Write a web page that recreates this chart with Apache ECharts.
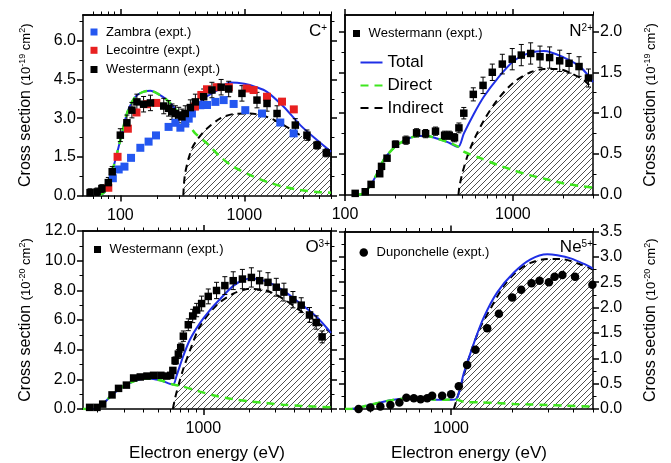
<!DOCTYPE html>
<html><head><meta charset="utf-8">
<script src="https://cdn.jsdelivr.net/npm/echarts@6/dist/echarts.min.js"></script>
<style>html,body{margin:0;padding:0;background:#fff}#c{width:671px;height:463px}</style>
</head><body><div id="c"></div>
<script>
// ---------------- DATA ----------------
// tick values
const xMajorTicks = [100, 1000];
const xMinorTicks = [60,70,80,90,200,300,400,500,600,700,800,900,2000,3000,4000,5000,6000,7000,8000,9000];
const cYTicks = [0, 1.5, 3.0, 4.5, 6.0];
const cYMinor = [0.75, 2.25, 3.75, 5.25, 6.75];
const nYTicks = [0, 0.5, 1.0, 1.5, 2.0];
const nYMinor = [0.25, 0.75, 1.25, 1.75];
const oYTicks = [0, 2, 4, 6, 8, 10, 12];
const oYMinor = [1, 3, 5, 7, 9, 11];
const neYTicks = [0, 0.5, 1.0, 1.5, 2.0, 2.5, 3.0, 3.5];
const neYMinor = [0.25, 0.75, 1.25, 1.75, 2.25, 2.75, 3.25];

// C+ panel
const cTotE = [68, 75, 80, 88, 100, 113, 125, 136, 155, 175, 200, 238, 280, 322, 360, 400, 443, 500, 603, 771, 1000, 1250, 1523, 2077, 2826, 3853, 5000];
const cTotV = [0, 0.15, 0.55, 1.11, 2.15, 3.18, 3.65, 3.89, 4.03, 4.06, 3.95, 3.70, 3.33, 2.92, 3.22, 3.45, 3.63, 3.85, 4.08, 4.38, 4.33, 4.20, 4.02, 3.44, 2.73, 2.15, 1.70];
const cDirE = [68, 75, 80, 88, 100, 113, 125, 136, 155, 175, 200, 238, 280, 322, 367, 400, 500, 640, 820, 1117, 1524, 2077, 2826, 3853, 5000];
const cDirV = [0, 0.15, 0.55, 1.11, 2.15, 3.18, 3.65, 3.89, 4.03, 4.06, 3.95, 3.70, 3.33, 2.92, 2.66, 2.42, 2.02, 1.50, 1.11, 0.79, 0.53, 0.34, 0.21, 0.14, 0.11];
const cIndE = [322, 326, 333, 345, 356, 380, 415, 460, 500, 640, 820, 1117, 1524, 2077, 2826, 3853, 5000];
const cIndV = [0, 0.45, 0.85, 1.20, 1.45, 1.85, 2.15, 2.42, 2.60, 2.99, 3.16, 3.18, 3.05, 2.73, 2.34, 2.02, 1.70];
const cWestE = [57, 65, 71, 80, 86, 100, 113, 124, 136, 154, 175, 224, 245, 261, 278, 296, 314, 334, 367, 403, 470, 548, 650, 748, 957, 1265, 1524, 1836, 2577, 3198, 3854, 4581];
const cWestV = [0.11, 0.14, 0.27, 0.50, 0.92, 2.34, 2.82, 3.31, 3.63, 3.54, 3.59, 3.47, 3.38, 3.25, 3.18, 3.12, 3.05, 3.18, 3.41, 3.63, 3.83, 4.09, 4.20, 4.13, 3.96, 3.70, 3.57, 3.18, 2.73, 2.34, 1.95, 1.65];
const cWestErr = [0.15, 0.15, 0.15, 0.2, 0.2, 0.25, 0.3, 0.3, 0.3, 0.3, 0.3, 0.3, 0.3, 0.3, 0.3, 0.3, 0.3, 0.3, 0.3, 0.3, 0.3, 0.3, 0.3, 0.3, 0.3, 0.3, 0.3, 0.3, 0.25, 0.2, 0.15, 0.15];
const cZamE = [87, 97, 108, 122, 145, 169, 194, 245, 278, 305, 334, 356, 378, 442, 500, 584, 681, 820, 1018, 1389, 1950, 2500];
const cZamV = [0.67, 1.01, 1.12, 1.46, 1.85, 2.09, 2.33, 2.66, 2.82, 2.63, 2.79, 2.98, 3.18, 3.50, 3.51, 3.63, 3.70, 3.55, 3.31, 3.18, 2.83, 2.41];
const cLecE = [80, 95, 115, 135, 164, 195, 400, 450, 500, 600, 750, 1045, 1188, 1524, 2014, 2506];
const cLecV = [0.30, 1.50, 2.59, 3.22, 3.54, 3.59, 3.45, 3.90, 4.12, 4.20, 4.20, 4.15, 4.09, 3.83, 3.64, 3.34];

// N2+ panel
const nTotE = [115, 129, 142, 155, 170, 186, 204, 234, 269, 308, 353, 405, 472, 510, 585, 671, 807, 1015, 1275, 1532, 2017, 2538, 3000];
const nTotV = [0, 0.02, 0.12, 0.26, 0.43, 0.53, 0.61, 0.68, 0.72, 0.72, 0.69, 0.65, 0.59, 0.75, 0.99, 1.20, 1.42, 1.64, 1.74, 1.76, 1.68, 1.56, 1.38];
const nDirE = [115, 129, 142, 155, 170, 186, 204, 234, 269, 308, 353, 405, 472, 510, 641, 807, 1015, 1275, 1605, 2017, 2538, 3000];
const nDirV = [0, 0.02, 0.12, 0.26, 0.43, 0.53, 0.61, 0.68, 0.72, 0.72, 0.69, 0.65, 0.59, 0.53, 0.45, 0.37, 0.30, 0.24, 0.19, 0.14, 0.11, 0.09];
const nIndE = [474, 480, 499, 535, 585, 671, 807, 1015, 1275, 1532, 1841, 2213, 2656, 3000];
const nIndV = [0, 0.10, 0.26, 0.47, 0.67, 0.91, 1.16, 1.38, 1.50, 1.54, 1.54, 1.49, 1.40, 1.30];
const nWestE = [115, 132, 143, 161, 165, 178, 200, 231, 267, 302, 346, 392, 418, 449, 477, 510, 581, 664, 754, 865, 991, 1122, 1276, 1450, 1655, 1900, 2160, 2477, 2819];
const nWestV = [0.02, 0.04, 0.13, 0.26, 0.35, 0.45, 0.62, 0.67, 0.76, 0.75, 0.78, 0.73, 0.73, 0.70, 0.82, 1.00, 1.23, 1.34, 1.50, 1.60, 1.66, 1.71, 1.73, 1.69, 1.68, 1.64, 1.61, 1.57, 1.43];
const nWestErr = [0.02, 0.02, 0.02, 0.03, 0.03, 0.03, 0.04, 0.05, 0.05, 0.05, 0.05, 0.05, 0.05, 0.05, 0.06, 0.07, 0.08, 0.1, 0.1, 0.12, 0.13, 0.13, 0.13, 0.13, 0.13, 0.13, 0.12, 0.12, 0.11];

// O3+ panel
const oTotE = [160, 188, 208, 243, 282, 346, 424, 519, 629, 667, 738, 817, 950, 1107, 1288, 1578, 1836, 2100, 2612, 3365, 4336, 5587, 7000];
const oTotV = [0, 0, 0.18, 0.84, 1.39, 1.87, 2.05, 1.94, 1.65, 2.27, 3.59, 4.69, 5.79, 6.67, 7.40, 8.30, 8.70, 8.80, 8.60, 8.00, 7.15, 6.23, 5.13];
const oDirE = [160, 188, 208, 243, 282, 346, 424, 519, 629, 702, 950, 1224, 1578, 2030, 2612, 3365, 4336, 7000];
const oDirV = [0, 0, 0.18, 0.84, 1.39, 1.87, 2.05, 1.94, 1.65, 1.57, 1.17, 0.88, 0.66, 0.51, 0.40, 0.29, 0.22, 0.11];
const oIndE = [629, 645, 667, 738, 838, 950, 1224, 1578, 2030, 2612, 3365, 4336, 5587, 7000];
const oIndV = [0, 0.55, 1.17, 2.71, 4.25, 5.57, 7.00, 7.77, 8.10, 7.99, 7.44, 6.67, 5.90, 5.13];
const oWestE = [177, 198, 216, 249, 275, 310, 346, 383, 424, 469, 524, 573, 609, 629, 651, 684, 709, 738, 796, 851, 904, 975, 1079, 1224, 1389, 1578, 1815, 2081, 2361, 2680, 3041, 3417, 3919, 4446, 5045, 5587, 6113];
const oWestV = [0.11, 0.11, 0.33, 0.95, 1.39, 1.61, 2.09, 2.16, 2.22, 2.27, 2.27, 2.22, 2.27, 2.60, 3.26, 3.70, 4.14, 4.91, 5.68, 6.27, 6.67, 7.11, 7.59, 7.99, 8.32, 8.65, 8.76, 8.87, 8.65, 8.54, 8.21, 7.88, 7.37, 7.00, 6.34, 5.83, 4.86];
const oWestErr = [0.1, 0.1, 0.1, 0.15, 0.15, 0.15, 0.15, 0.15, 0.15, 0.15, 0.15, 0.15, 0.15, 0.2, 0.25, 0.3, 0.3, 0.35, 0.4, 0.45, 0.45, 0.5, 0.5, 0.55, 0.6, 0.6, 0.65, 0.65, 0.65, 0.65, 0.6, 0.6, 0.55, 0.5, 0.5, 0.45, 0.4];

// Ne5+ panel
const neTotE = [300, 318, 371, 448, 542, 655, 791, 921, 1050, 1155, 1295, 1450, 1687, 2038, 2462, 2977, 3335, 3882, 4518, 5000];
const neTotV = [0, 0, 0.05, 0.13, 0.19, 0.21, 0.19, 0.18, 0.19, 0.71, 1.30, 1.81, 2.30, 2.69, 2.95, 3.05, 3.03, 2.97, 2.86, 2.77];
const neDirE = [300, 318, 371, 448, 542, 655, 791, 921, 1050, 1155, 1396, 1687, 2038, 2462, 2977, 3597, 5000];
const neDirV = [0, 0, 0.05, 0.13, 0.19, 0.21, 0.19, 0.18, 0.19, 0.14, 0.13, 0.12, 0.10, 0.09, 0.08, 0.065, 0.045];
const neIndE = [1031, 1091, 1245, 1396, 1564, 1820, 2118, 2462, 2977, 3597, 4349, 5000];
const neIndV = [0, 0.32, 1.10, 1.62, 1.98, 2.43, 2.72, 2.88, 2.96, 2.95, 2.85, 2.75];
const neDupE = [350, 400, 448, 502, 556, 602, 655, 707, 762, 806, 903, 1000, 1091, 1199, 1318, 1506, 1720, 1999, 2215, 2490, 2727, 3033, 3236, 3532, 4077, 4966];
const neDupV = [0.0, 0.03, 0.05, 0.08, 0.13, 0.22, 0.21, 0.19, 0.21, 0.26, 0.26, 0.29, 0.45, 0.87, 1.17, 1.59, 1.88, 2.20, 2.35, 2.48, 2.53, 2.50, 2.61, 2.64, 2.61, 2.45];

// ---------------- CHART ----------------
const F = "'Liberation Sans', Arial, Helvetica, sans-serif";
const zip = (a, b) => a.map((x, i) => [x, b[i]]);
const zip3 = (a, b, c) => a.map((x, i) => [x, b[i], c[i]]);

function hatch() {
  const c = document.createElement('canvas');
  c.width = 6; c.height = 6;
  const g = c.getContext('2d');
  g.strokeStyle = '#222'; g.lineWidth = 0.8;
  g.beginPath();
  g.moveTo(-1, 7); g.lineTo(7, -1);
  g.moveTo(-1, 1); g.lineTo(1, -1);
  g.moveTo(5, 7); g.lineTo(7, 5);
  g.stroke();
  return c;
}
const HATCH = hatch();

const panels = [
  {xmin: 50, xmax: 5000, ymax: 7, side: 'left', ticks: cYTicks, minor: cYMinor, unit: '-19', grid: {left: 83, top: 15, width: 248, height: 180.5}, xname: ''},
  {xmin: 100, xmax: 3000, ymax: 2.2, side: 'right', ticks: nYTicks, minor: nYMinor, unit: '-19', grid: {left: 345, top: 15, width: 248, height: 180}, xname: ''},
  {xmin: 160, xmax: 7000, ymax: 12, side: 'left', ticks: oYTicks, minor: oYMinor, unit: '-20', grid: {left: 83, top: 231, width: 248, height: 181.5}, xname: 'Electron energy (eV)'},
  {xmin: 300, xmax: 5000, ymax: 3.5, side: 'right', ticks: neYTicks, minor: neYMinor, unit: '-20', grid: {left: 345, top: 231.5, width: 248, height: 180}, xname: 'Electron energy (eV)'}
];

const AX = {color: '#000', width: 1.5};
const xAxes = [], yAxes = [];
panels.forEach((p, gi) => {
  xAxes.push({type: 'log', logBase: 10, gridIndex: gi, min: p.xmin, max: p.xmax, position: 'bottom',
    axisLine: {show: true, onZero: false, lineStyle: AX},
    axisTick: {show: true, customValues: xMajorTicks, length: 6, lineStyle: AX},
    axisLabel: {show: true, customValues: xMajorTicks, fontSize: 16, color: '#000', fontFamily: F, margin: 12,
      formatter: v => String(Math.round(v))},
    splitLine: {show: false}, minorTick: {show: false},
    name: p.xname, nameLocation: 'middle', nameGap: 36,
    nameTextStyle: {fontSize: 17, color: '#000', fontFamily: F}});
});
panels.forEach((p, gi) => {
  [['bottom', 3.5], ['top', 3.5]].forEach(([pos, len]) => {
    xAxes.push({type: 'log', logBase: 10, gridIndex: gi, min: p.xmin, max: p.xmax, position: pos,
      axisLine: {show: pos === 'top', onZero: false, lineStyle: AX},
      axisTick: {show: true, customValues: xMinorTicks, length: len, lineStyle: {color: '#000', width: 1}},
      axisLabel: {show: false}, splitLine: {show: false}});
  });
  xAxes.push({type: 'log', logBase: 10, gridIndex: gi, min: p.xmin, max: p.xmax, position: 'top',
    axisLine: {show: true, onZero: false, lineStyle: AX},
    axisTick: {show: true, customValues: xMajorTicks, length: 6, lineStyle: AX},
    axisLabel: {show: false}, splitLine: {show: false}});
});
panels.forEach((p, gi) => {
  yAxes.push({type: 'value', gridIndex: gi, min: 0, max: p.ymax, position: p.side,
    axisLine: {show: true, onZero: false, lineStyle: AX},
    axisTick: {show: true, customValues: p.ticks, length: 6, lineStyle: AX},
    axisLabel: {show: true, customValues: p.ticks, fontSize: 16, color: '#000', fontFamily: F, margin: 7,
      formatter: v => Number(v).toFixed(1)},
    splitLine: {show: false},
    name: '{a|Cross section }{b|(10}{s|' + p.unit + '}{b| cm}{s|2}{b|)}',
    nameLocation: 'middle', nameRotate: 90, nameGap: p.side === 'left' ? 49 : 50,
    nameTextStyle: {fontFamily: F, color: '#000', rich: {
      a: {fontSize: 16, fontFamily: F, color: '#000', verticalAlign: 'middle'},
      b: {fontSize: 13, fontFamily: F, color: '#000', verticalAlign: 'middle'},
      s: {fontSize: 9, fontFamily: F, color: '#000', verticalAlign: 'top'}}}});
});
panels.forEach((p, gi) => {
  const other = p.side === 'left' ? 'right' : 'left';
  [p.side, other].forEach(pos => {
    yAxes.push({type: 'value', gridIndex: gi, min: 0, max: p.ymax, position: pos,
      axisLine: {show: pos === other, onZero: false, lineStyle: AX},
      axisTick: {show: true, customValues: p.minor, length: 3.5, lineStyle: {color: '#000', width: 1}},
      axisLabel: {show: false}, splitLine: {show: false}});
  });
  yAxes.push({type: 'value', gridIndex: gi, min: 0, max: p.ymax, position: other,
    axisLine: {show: true, onZero: false, lineStyle: AX},
    axisTick: {show: true, customValues: p.ticks, length: 6, lineStyle: AX},
    axisLabel: {show: false}, splitLine: {show: false}});
});

const BLUE = '#1f2fe6', GREEN = '#3ee61e', RED = '#e82020', ZBLUE = '#2457f0';
function total(gi, E, V) {
  return {type: 'line', name: 'Total', xAxisIndex: gi, yAxisIndex: gi, data: zip(E, V), symbol: 'none', showSymbol: false,
    smooth: 0.3, lineStyle: {color: BLUE, width: 2}, itemStyle: {color: BLUE}, z: 3};
}
function direct(gi, E, V) {
  return {type: 'line', name: 'Direct', xAxisIndex: gi, yAxisIndex: gi, data: zip(E, V), symbol: 'none', showSymbol: false,
    smooth: 0.3, lineStyle: {color: GREEN, width: 2.5, type: [8, 6]}, itemStyle: {color: GREEN}, z: 4};
}
function indirect(gi, E, V) {
  return {type: 'line', name: 'Indirect', xAxisIndex: gi, yAxisIndex: gi, data: zip(E, V), symbol: 'none', showSymbol: false,
    smooth: 0.3, lineStyle: {color: '#000', width: 2, type: [7, 5]}, itemStyle: {color: '#000'},
    areaStyle: {color: {image: HATCH, repeat: 'repeat'}, opacity: 1}, z: 2};
}
function pts(gi, name, E, V, color, symbol, size) {
  return {type: 'scatter', name, xAxisIndex: gi, yAxisIndex: gi, data: zip(E, V), symbol, symbolSize: size,
    itemStyle: {color, opacity: 1}, z: 6};
}
function errs(gi, E, V, Er) {
  return {type: 'custom', xAxisIndex: gi, yAxisIndex: gi, data: zip3(E, V, Er), z: 5, silent: true,
    renderItem: (params, api) => {
      const x = api.value(0), y = api.value(1), e = api.value(2);
      const a = api.coord([x, y + e]), b = api.coord([x, Math.max(0, y - e)]);
      const w = 2.5, st = {stroke: '#000', lineWidth: 1};
      return {type: 'group', children: [
        {type: 'line', shape: {x1: a[0], y1: a[1], x2: b[0], y2: b[1]}, style: st},
        {type: 'line', shape: {x1: a[0] - w, y1: a[1], x2: a[0] + w, y2: a[1]}, style: st},
        {type: 'line', shape: {x1: b[0] - w, y1: b[1], x2: b[0] + w, y2: b[1]}, style: st}]};
    }};
}

const series = [
  indirect(0, cIndE, cIndV), total(0, cTotE, cTotV), direct(0, cDirE, cDirV),
  pts(0, 'Zambra (expt.)', cZamE, cZamV, ZBLUE, 'rect', 8),
  pts(0, 'Lecointre (expt.)', cLecE, cLecV, RED, 'rect', 8),
  errs(0, cWestE, cWestV, cWestErr),
  pts(0, 'Westermann (expt.)', cWestE, cWestV, '#000', 'rect', 7.5),

  indirect(1, nIndE, nIndV), total(1, nTotE, nTotV), direct(1, nDirE, nDirV),
  errs(1, nWestE, nWestV, nWestErr),
  pts(1, 'Westermann (expt.)', nWestE, nWestV, '#000', 'rect', 7.5),

  indirect(2, oIndE, oIndV), total(2, oTotE, oTotV), direct(2, oDirE, oDirV),
  errs(2, oWestE, oWestV, oWestErr),
  pts(2, 'Westermann (expt.)', oWestE, oWestV, '#000', 'rect', 7.5),

  indirect(3, neIndE, neIndV), total(3, neTotE, neTotV), direct(3, neDirE, neDirV),
  pts(3, 'Duponchelle (expt.)', neDupE, neDupV, '#000', 'circle', 8.5)
];

function leg(name, icon, left, top, w, h, fs, fmt) {
  return {data: [{name, icon}], left, top, itemWidth: w, itemHeight: h, padding: 0, selectedMode: false,
    formatter: fmt || (n => ' ' + n),
    textStyle: {fontSize: fs, fontFamily: F, color: '#000', lineHeight: fs + 1}};
}
const SOLID = 'path://M0,0H22V2H0Z';
const DASH = 'path://M0,0H8V2H0Z M14,0H22V2H14Z';
const legends = [
  leg('Zambra (expt.)', 'rect', 90.5, 25, 7, 7, 13),
  leg('Lecointre (expt.)', 'rect', 90.5, 43.3, 7, 7, 13),
  leg('Westermann (expt.)', 'rect', 90.5, 62.5, 7, 7, 13),
  leg('Westermann (expt.)', 'rect', 353, 26.5, 7, 7, 13),
  leg('Total', SOLID, 360.5, 53.5, 22, 10, 17, n => n),
  leg('Direct', DASH, 360.5, 76.5, 22, 10, 17, n => n),
  leg('Indirect', DASH, 360.5, 99, 22, 10, 17, n => n),
  leg('Westermann (expt.)', 'rect', 94, 242.5, 7, 7, 13),
  leg('Duponchelle (expt.)', 'circle', 359.5, 245.5, 8.5, 8.5, 13)
];

function ion(el, sup, right, top) {
  return {text: '{a|' + el + '}{s|' + sup + '}', right, top, padding: 0,
    textStyle: {fontWeight: 'normal', rich: {
      a: {fontSize: 17, fontFamily: F, color: '#000', fontWeight: 'normal', verticalAlign: 'middle'},
      s: {fontSize: 10, fontFamily: F, color: '#000', fontWeight: 'normal', verticalAlign: 'top'}}}};
}
const titles = [ion('C', '+', 344, 23), ion('N', '2+', 78, 23), ion('O', '3+', 341, 239), ion('Ne', '5+', 78, 239)];

const chart = echarts.init(document.getElementById('c'), null, {renderer: 'canvas', width: 671, height: 463});
chart.setOption({
  animation: false,
  backgroundColor: '#fff',
  title: titles,
  legend: legends,
  grid: panels.map(p => Object.assign({containLabel: false}, p.grid)),
  xAxis: xAxes,
  yAxis: yAxes,
  series
});
</script></body></html>
